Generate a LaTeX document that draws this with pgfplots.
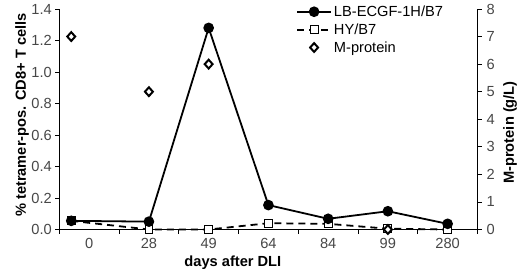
\documentclass[border=0pt]{standalone}
\usepackage{fontspec}
\setmainfont{Liberation Sans}
\usepackage{pgfplots}
\pgfplotsset{compat=1.18}
\begin{document}
\begin{tikzpicture}
\pgfplotsset{
  every axis/.append style={
    width=418.2bp, height=220.5bp, scale only axis,
    xmin=-0.5, xmax=6.5,
    font=\fontsize{14.7}{17.6}\selectfont,
    tick align=outside,
    major tick length=4bp,
    tick style={black, line width=0.8pt},
    axis line style={black, line width=0.8pt, -},
    /pgf/number format/assume math mode=true,
    tick label style={text=black!72},
    clip=false,
  },
  linelegend/.style={legend image code/.code={\draw[mark repeat=2,mark phase=2,##1] plot coordinates {(0bp,0bp) (17bp,0bp) (34bp,0bp)};}},
  marklegend/.style={legend image code/.code={\draw[##1] plot coordinates {(17bp,0bp)};}},
  lbstyle/.style={black, line width=1.8pt, mark=*, mark size=4.4bp, mark options={solid}, linelegend},
  hystyle/.style={black, line width=1.8pt, dash pattern=on 7bp off 5bp, mark=square*, mark size=3.9bp, mark options={solid, fill=white, line width=1pt}, linelegend},
  mpstyle/.style={only marks, mark=diamond*, mark size=4.4bp, mark options={solid, fill=white, line width=2pt, xscale=1.2}, marklegend},
}
\begin{axis}[
  axis x line*=bottom, axis y line*=left,
  ymin=0, ymax=1.4,
  ytick={0,0.2,0.4,0.6,0.8,1.0,1.2,1.4},
  yticklabel style={/pgf/number format/fixed, /pgf/number format/fixed zerofill, /pgf/number format/precision=1},
  xtick={-0.5,0.5,1.5,2.5,3.5,4.5,5.5,6.5}, xticklabels={},
  extra x ticks={0,1,2,3,4,5,6},
  extra x tick labels={0,28,49,64,84,99,280},
  extra x tick style={major tick length=0pt},
  xticklabel style={yshift=-5.5bp},
  xlabel={\bfseries days after DLI},
  xlabel style={at={(axis description cs:0.415,-0.15)}, anchor=center},
  ylabel={\bfseries \% tetramer-pos. CD8+ T cells},
  ylabel style={at={(axis description cs:-0.089,0.519)}, anchor=center},
]
\addplot[hystyle] coordinates {(-0.3,0.055) (1,0) (2,0) (3,0.04) (4,0.036) (5,0.005) (6,0)};
\addplot[lbstyle] coordinates {(-0.3,0.055) (1,0.05) (2,1.28) (3,0.155) (4,0.068) (5,0.116) (6,0.036)};
\end{axis}
\begin{axis}[
  axis x line=none, axis y line*=right,
  ymin=0, ymax=8, ytick={0,1,2,3,4,5,6,7,8},
  yticklabel style={xshift=1.5bp},
  ylabel={\bfseries M-protein (g/L)},
  ylabel style={at={(axis description cs:1.078,0.44)}, anchor=center},
  legend style={at={(axis description cs:0.566,1.025)}, anchor=north west, draw=none, fill=none, inner sep=0pt, row sep=1.8bp, font=\fontsize{14.7}{17.6}\selectfont},
  legend cell align=left,
]
\addlegendimage{lbstyle}
\addlegendentry{LB-ECGF-1H/B7}
\addlegendimage{hystyle}
\addlegendentry{HY/B7}
\addplot[mpstyle] coordinates {(-0.3,7) (1,5) (2,6) (5,0)};
\addlegendentry{M-protein}
\coordinate (sw) at (rel axis cs:0,0);
\coordinate (ne) at (rel axis cs:1,1);
\end{axis}
\pgfresetboundingbox
\path ([xshift=-59.3bp,yshift=-43.5bp]sw) rectangle ([xshift=42.5bp,yshift=9bp]ne);
\end{tikzpicture}
\end{document}
